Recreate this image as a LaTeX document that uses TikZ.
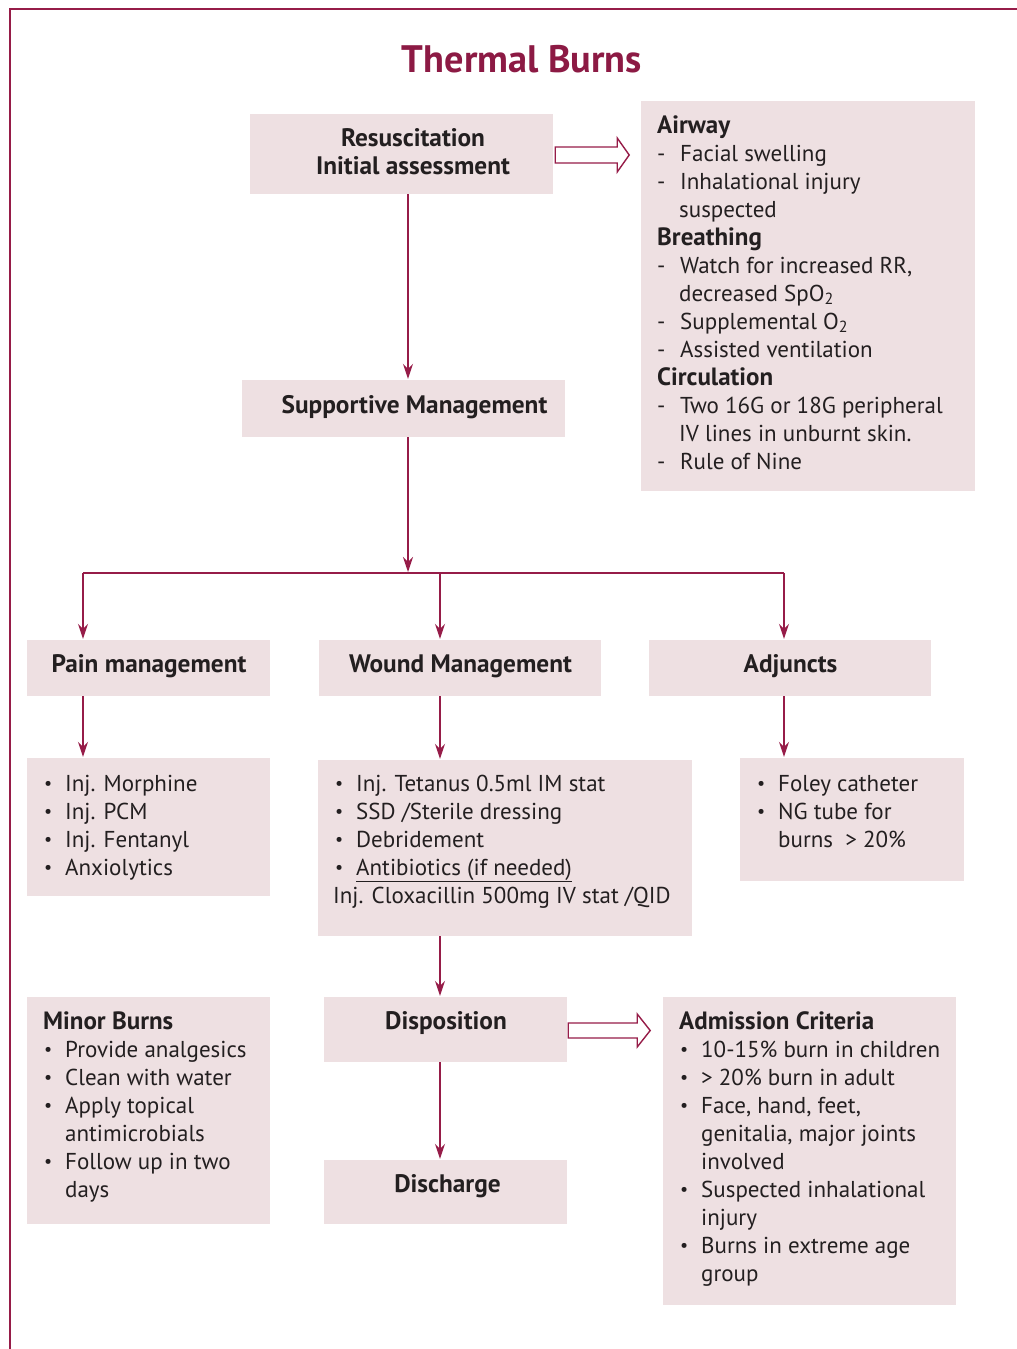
\documentclass[tikz,border=0pt]{standalone}
\usepackage{fontspec}
\setmainfont{PT Sans}
\usetikzlibrary{arrows.meta,calc}

\definecolor{wine}{RGB}{150,28,72}
\definecolor{titlewine}{RGB}{140,26,68}
\definecolor{boxfill}{RGB}{238,224,226}
\definecolor{ink}{RGB}{35,31,32}

% list helpers
\newcommand{\bulletmark}{\raisebox{2pt}{\fontsize{18}{18}\selectfont\textbullet}}
\newcommand{\itm}[1]{\makebox[22pt][l]{\hspace{1pt}\bulletmark}#1}
\newcommand{\dsh}[1]{\makebox[23pt][l]{-}#1}
\newcommand{\cont}[1]{\hspace*{22pt}#1}
\newcommand{\lst}[1]{\parbox[t]{420pt}{\raggedright #1}}
\newcommand{\subhead}[1]{{\fontsize{25}{28}\selectfont\bfseries #1}}

\tikzset{
  box/.style={fill=boxfill, draw=none, inner sep=0pt},
  txt/.style={inner sep=0pt, text=ink, font=\fontsize{23}{28}\selectfont},
  head/.style={inner sep=0pt, text=ink, anchor=base, font=\fontsize{25.3}{28}\selectfont\bfseries},
  conn/.style={draw=wine, line width=1.3pt},
  arr/.style={conn, -{Stealth[length=15pt,width=10pt,inset=5pt]}, shorten >=1pt},
  hollow/.style={draw=wine, line width=1.4pt, fill=white, line join=miter},
}

\begin{document}
\begin{tikzpicture}[x=1pt,y=-1pt]
\useasboundingbox (0,0) rectangle (1017,1349);

% frame
\draw[wine, line width=2pt] (9.5,1349) -- (9.5,8.5) -- (1017,8.5);

% title
\node[inner sep=0pt, anchor=base, text=titlewine, font=\fontsize{38.3}{44}\selectfont\bfseries] (title) at (522,72) {Thermal Burns};

% boxes
\node[box, minimum width=303pt, minimum height=80pt] (resus) at (401.5,154) {};
\node[box, minimum width=334pt, minimum height=390pt] (abc) at (808,296) {};
\node[box, minimum width=323pt, minimum height=57pt] (support) at (403.5,408.5) {};
\node[box, minimum width=243pt, minimum height=56pt] (pain) at (148.5,668) {};
\node[box, minimum width=282pt, minimum height=56pt] (wound) at (460,668) {};
\node[box, minimum width=282pt, minimum height=56pt] (adj) at (790,668) {};
\node[box, minimum width=243pt, minimum height=138pt] (painL) at (148.5,827) {};
\node[box, minimum width=374pt, minimum height=176pt] (woundL) at (505,848) {};
\node[box, minimum width=224pt, minimum height=123pt] (adjL) at (852,819.5) {};
\node[box, minimum width=243pt, minimum height=227pt] (minor) at (148.5,1110.5) {};
\node[box, minimum width=243pt, minimum height=65pt] (dispo) at (445.5,1029.5) {};
\node[box, minimum width=293pt, minimum height=308pt] (admit) at (809.5,1151) {};
\node[box, minimum width=243pt, minimum height=64pt] (disch) at (445.5,1192) {};

% box headings
\node[head] (resusT1) at (413,146) {Resuscitation};
\node[head] (resusT2) at (413,174) {Initial assessment};
\node[head] (supportT) at (414.5,413) {Supportive Management};
\node[head] (painT) at (149,672) {Pain management};
\node[head] (woundT) at (460.5,672) {Wound Management};
\node[head] (adjT) at (790.5,672) {Adjuncts};
\node[head] (dispoT) at (446,1029) {Disposition};
\node[head] (dischT) at (447.5,1192) {Discharge};

% box contents
\node[txt, anchor=base west] (abcT) at (657,133) {\lst{%
  \subhead{Airway}\\
  \dsh{Facial swelling}\\
  \dsh{Inhalational injury}\\
  \cont{suspected}\\
  \subhead{Breathing}\\
  \dsh{Watch for increased RR,}\\
  \cont{decreased SpO\textsubscript{2}}\\
  \dsh{Supplemental O\textsubscript{2}}\\
  \dsh{Assisted ventilation}\\
  \subhead{Circulation}\\
  \dsh{Two 16G or 18G peripheral}\\
  \cont{IV lines in unburnt skin.}\\
  \dsh{Rule of Nine}}};

\node[txt, anchor=base west] (painLT) at (43,791) {\lst{%
  \itm{Inj. Morphine}\\
  \itm{Inj. PCM}\\
  \itm{Inj. Fentanyl}\\
  \itm{Anxiolytics}}};

\node[txt, anchor=base west] (woundLT) at (334,791) {\lst{%
  \itm{Inj. Tetanus 0.5ml IM stat}\\
  \itm{SSD /Sterile dressing}\\
  \itm{Debridement}\\
  \itm{\underline{Antibiotics (if needed)}}\\
  \hspace*{-1pt}Inj. Cloxacillin 500mg IV stat /QID}};

\node[txt, anchor=base west] (adjLT) at (756,791) {\lst{%
  \itm{Foley catheter}\\
  \itm{NG tube for}\\
  \cont{burns \ > 20\%}}};

\node[txt, anchor=base west] (minorT) at (43,1029) {\lst{%
  \subhead{Minor Burns}\\
  \itm{Provide analgesics}\\
  \itm{Clean with water}\\
  \itm{Apply topical}\\
  \cont{antimicrobials}\\
  \itm{Follow up in two}\\
  \cont{days}}};

\node[txt, anchor=base west] (admitT) at (679,1029) {\lst{%
  \subhead{Admission Criteria}\\
  \itm{10-15\% burn in children}\\
  \itm{> 20\% burn in adult}\\
  \itm{Face, hand, feet,}\\
  \cont{genitalia, major joints}\\
  \cont{involved}\\
  \itm{Suspected inhalational}\\
  \cont{injury}\\
  \itm{Burns in extreme age}\\
  \cont{group}}};

% connector columns
\coordinate (mainx) at (408,0);
\coordinate (hub) at (408,573);
\coordinate (leftx) at (83,573);
\coordinate (midx) at (440,573);
\coordinate (rightx) at (784,573);

\draw[arr] (resus.south -| mainx) -- (support.north -| mainx);
\draw[arr] (support.south -| mainx) -- (hub);
\draw[conn] (leftx) -- (rightx);
\draw[arr] (leftx) -- (pain.north -| leftx);
\draw[arr] (midx) -- (wound.north -| midx);
\draw[arr] (rightx) -- (adj.north -| rightx);
\draw[arr] (pain.south -| leftx) -- (painL.north -| leftx);
\draw[arr] (wound.south -| midx) -- (woundL.north -| midx);
\draw[arr] (adj.south -| rightx) -- (adjL.north -| rightx);
\draw[arr] (woundL.south -| midx) -- (dispo.north -| midx);
\draw[arr] (dispo.south -| midx) -- (disch.north -| midx);

% block arrows
\draw[hollow] ($(resus.east)+(2,-7)$) -- ++(62,0) -- ++(0,-9) -- ++(12,17)
  -- ++(-12,17) -- ++(0,-9) -- ++(-62,0) -- cycle;
\draw[hollow] ($(dispo.east)+(1,-6.5)$) -- ++(69,0) -- ++(0,-9) -- ++(13,16.5)
  -- ++(-13,16.5) -- ++(0,-9) -- ++(-69,0) -- cycle;
\end{tikzpicture}
\end{document}
